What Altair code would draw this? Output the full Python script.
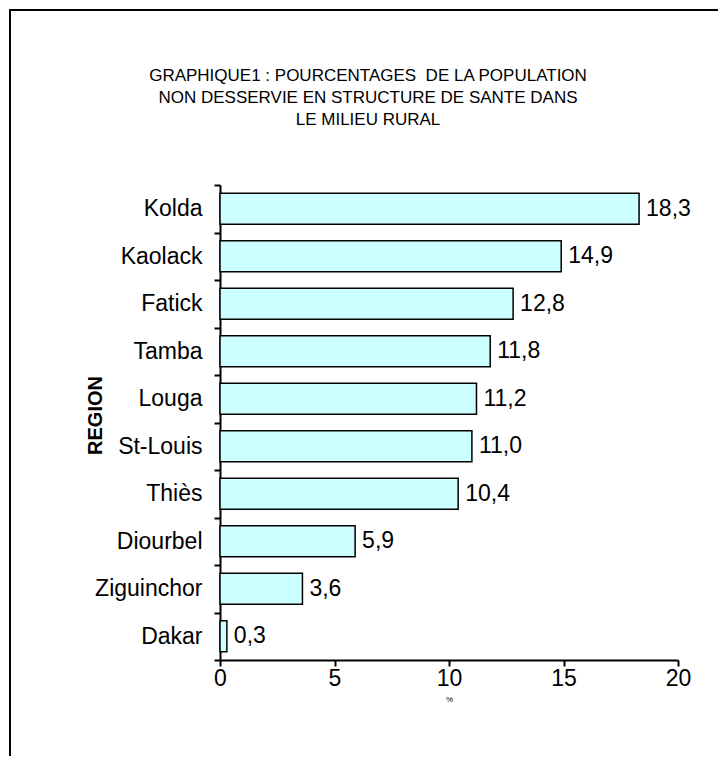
import altair as alt
import pandas as pd

regions = ["Kolda", "Kaolack", "Fatick", "Tamba", "Louga", "St-Louis",
           "Thiès", "Diourbel", "Ziguinchor", "Dakar"]
values = [18.3, 14.9, 12.8, 11.8, 11.2, 11.0, 10.4, 5.9, 3.6, 0.3]
x_ticks = [0, 5, 10, 15, 20]
title_lines = ["GRAPHIQUE1 : POURCENTAGES\u00a0 DE LA POPULATION",
               "NON DESSERVIE EN STRUCTURE DE SANTE DANS",
               "LE MILIEU RURAL"]

df = pd.DataFrame({"region": regions, "value": values})
df["label"] = [f"{v:.1f}".replace(".", ",") for v in values]

FONT = "Liberation Sans"

y_enc = alt.Y("region:N", sort=regions,
              scale=alt.Scale(paddingInner=0, paddingOuter=0),
              axis=alt.Axis(title="REGION", tickBand="extent", labelPadding=12,
                            titleFontWeight="bold", titleFontSize=20,
                            titleX=-125, titleY=230, titleBaseline="middle"))
x_enc = alt.X("value:Q", scale=alt.Scale(domain=[0, 20]),
              axis=alt.Axis(title="%", values=x_ticks, titleFontSize=8,
                            titleFontWeight="normal", labelPadding=1,
                            labelFlush=False, titlePadding=5))

bars = alt.Chart(df).mark_bar(
    height={"band": 0.65}, fill="#CCFFFF", stroke="black", strokeWidth=1.5
).encode(x=x_enc, y=y_enc)

text = alt.Chart(df).mark_text(
    align="left", baseline="middle", dx=7, font=FONT, fontSize=23, color="black"
).encode(x="value:Q", y=alt.Y("region:N", sort=regions), text="label:N")

title = alt.Chart(alt.Data(values=[{"a": 1}])).mark_text(
    text=title_lines, align="center", baseline="alphabetic", lineHeight=22,
    font=FONT, fontSize=17, color="black"
).encode(x=alt.value(148), y=alt.value(-104))

frame = alt.Chart(alt.Data(values=[{"a": 1}])).mark_rect(
    fill=None, stroke="black", strokeWidth=2
).encode(x=alt.value(-210), x2=alt.value(530),
         y=alt.value(-175), y2=alt.value(600))

chart = alt.layer(bars, text, title, frame).properties(
    width=458, height=475,
    autosize=alt.AutoSizeParams(type="none"),
    padding={"left": 212, "top": 177, "right": 40, "bottom": 96},
).configure_view(stroke=None).configure_axis(
    domainColor="black", domainWidth=2, tickColor="black", tickWidth=2,
    tickSize=6, labelFont=FONT, labelFontSize=23, labelColor="black",
    titleFont=FONT, titleColor="black", grid=False
)

chart.save("out.html", embed_options={"renderer": "svg", "actions": False})
